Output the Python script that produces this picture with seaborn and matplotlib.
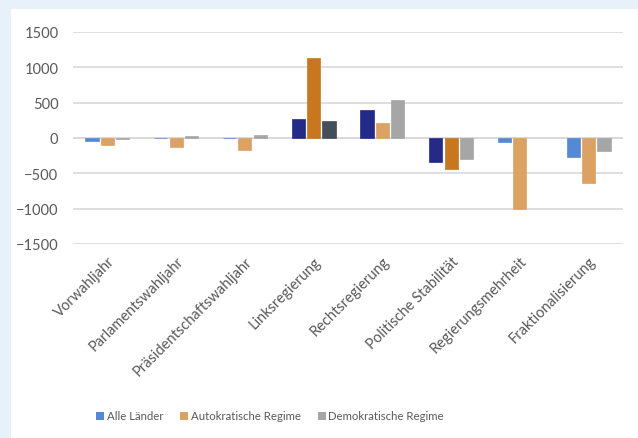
import numpy as np
import pandas as pd
import seaborn as sns
import matplotlib.pyplot as plt
from matplotlib.patches import Rectangle, Patch

# Dati del grafico
categorie = ["Vorwahljahr", "Parlamentswahljahr", "Präsidentschaftswahljahr",
             "Linksregierung", "Rechtsregierung", "Politische Stabilität",
             "Regierungsmehrheit", "Fraktionalisierung"]
serie = ["Alle Länder", "Autokratische Regime", "Demokratische Regime"]

alle_laender = [-42, -5, -5, 265, 392, -344, -50, -269]
autokratisch = [-97, -130, -170, 1129, 217, -443, -1005, -632]
demokratisch = [-20, 35, 42, 236, 534, -292, 0, -184]

# 1 = significativo (colore scuro), 0 = non significativo
sig_alle = [0, 0, 0, 1, 1, 1, 0, 0]
sig_auto = [0, 0, 0, 1, 0, 1, 0, 0]
sig_demo = [0, 0, 0, 1, 0, 0, 0, 0]

colori_chiari = ["#5589D5", "#DCA263", "#A6A6A6"]
colori_scuri = ["#252A86", "#C6771F", "#444E58"]

df = pd.DataFrame({
    "Kategorie": categorie * 3,
    "Serie": np.repeat(serie, len(categorie)),
    "Wert": alle_laender + autokratisch + demokratisch,
})
signif = [sig_alle, sig_auto, sig_demo]

sns.set_theme(style="white")
plt.rcParams["font.family"] = ["Lato", "DejaVu Sans"]

fig = plt.figure(figsize=(6.38, 4.39), dpi=100, facecolor="#E8F0FA")
# pannello bianco
fig.add_artist(Rectangle((11 / 638, 0), 1 - 11 / 638, 1 - 10 / 439,
                         transform=fig.transFigure, facecolor="white",
                         edgecolor="none", zorder=-10))
ax = fig.add_axes([73 / 638, 1 - 245 / 439, 550 / 638, 212 / 439])
ax.set_facecolor("none")

sns.barplot(data=df, x="Kategorie", y="Wert", hue="Serie", order=categorie,
            hue_order=serie, width=0.67, gap=0.15, ax=ax, legend=False,
            errorbar=None, zorder=3)

# ricolora le barre secondo la significatività
for i, cont in enumerate(ax.containers):
    for j, bar in enumerate(cont):
        col = colori_scuri[i] if signif[i][j] else colori_chiari[i]
        bar.set_facecolor(col)
        bar.set_edgecolor(col)
        bar.set_linewidth(0.5 if bar.get_height() != 0 else 0)
        bar.set_alpha(1)

ax.set_ylim(-1500, 1500)
ax.set_yticks(range(-1500, 1501, 500))
ax.set_xlim(-0.5, len(categorie) - 0.5)
ax.yaxis.grid(True, color="#D9D9D9", linewidth=1.2, zorder=0)
ax.axhline(0, color="#D9D9D9", linewidth=1.2, zorder=2)
for s in ax.spines.values():
    s.set_visible(False)
ax.set_xlabel("")
ax.set_ylabel("")
ax.tick_params(axis="y", length=0, pad=10.5, labelsize=10.5, labelcolor="#595959")
ax.tick_params(axis="x", length=0, pad=7, labelsize=10.5, labelcolor="#595959")
plt.setp(ax.get_xticklabels(), rotation=45, ha="right", va="top",
         rotation_mode="anchor")

handles = [Patch(facecolor=c, edgecolor="none") for c in colori_chiari]
fig.legend(handles, serie, loc="center", bbox_to_anchor=(270 / 638, 1 - 417 / 439),
           ncol=3, frameon=False, fontsize=8.2, labelcolor="#595959",
           handlelength=0.7, handleheight=0.7, handletextpad=0.2,
           columnspacing=1.5)

fig.savefig("out.png", dpi=100, facecolor=fig.get_facecolor())
